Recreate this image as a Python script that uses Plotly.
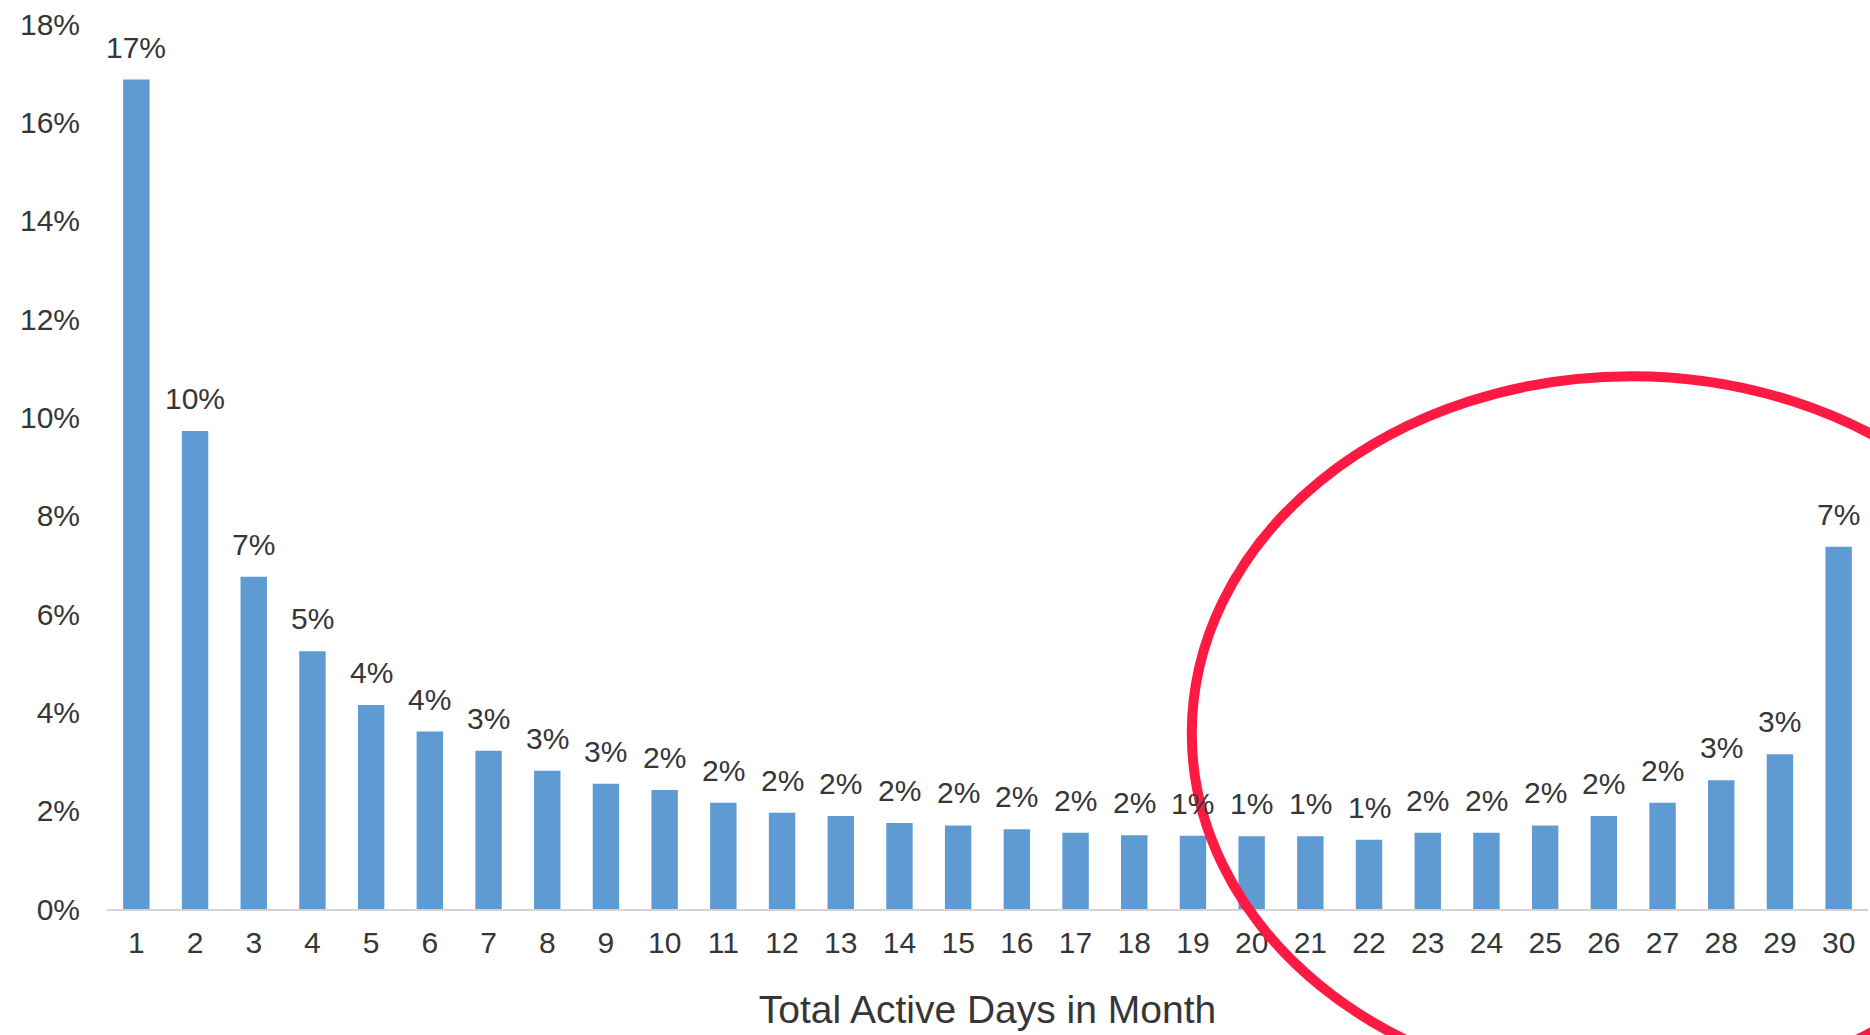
import plotly.graph_objects as go

days = [str(d) for d in range(1, 31)]
share = [16.87, 9.72, 6.76, 5.24, 4.15, 3.61, 3.22, 2.81, 2.55, 2.42,
         2.16, 1.96, 1.89, 1.75, 1.70, 1.62, 1.55, 1.50, 1.49, 1.48,
         1.48, 1.41, 1.55, 1.55, 1.70, 1.89, 2.16, 2.62, 3.15, 7.37]
labels = ["17%", "10%", "7%", "5%", "4%", "4%", "3%", "3%", "3%", "2%",
          "2%", "2%", "2%", "2%", "2%", "2%", "2%", "2%", "1%", "1%",
          "1%", "1%", "2%", "2%", "2%", "2%", "2%", "3%", "3%", "7%"]
y_ticks = list(range(0, 19, 2))
y_tick_labels = [f"{v}%" for v in y_ticks]

FONT = "Liberation Sans, Arial, sans-serif"
TXT = "#363636"

fig = go.Figure(go.Bar(
    x=days, y=share,
    marker=dict(color="#5f9bd3", line=dict(width=0)),
    hoverinfo="skip",
))

# value labels above bars (category axis -> use category index)
for i, (v, t) in enumerate(zip(share, labels)):
    fig.add_annotation(x=i, y=v, xref="x", yref="y", text=t, showarrow=False,
                       yanchor="bottom", yshift=14,
                       font=dict(family=FONT, size=30, color=TXT))

# red highlight ellipse (decoration)
fig.add_shape(type="circle", xref="paper", yref="paper",
              x0=0.616, x1=1.115, y0=-0.205, y1=0.602,
              line=dict(color="#ff1a44", width=10), layer="above")

fig.update_layout(
    width=1870, height=1035,
    margin=dict(l=107, r=2, t=24, b=126),
    paper_bgcolor="white", plot_bgcolor="white",
    bargap=0.55,
    showlegend=False,
    font=dict(family=FONT, color=TXT, size=30),
    xaxis=dict(
        type="category", range=[-0.5, 29.5],
        showline=True, linecolor="#d4d4d4", linewidth=2,
        showgrid=False, ticks="", ticklabelstandoff=6,
        tickfont=dict(family=FONT, size=30, color=TXT),
        title=dict(text="Total Active Days in Month", standoff=38,
                   font=dict(family=FONT, size=39, color=TXT)),
    ),
    yaxis=dict(
        range=[0, 18], tickvals=y_ticks, ticktext=y_tick_labels,
        showgrid=False, zeroline=False, showline=False, ticks="",
        ticklabelstandoff=26,
        tickfont=dict(family=FONT, size=30, color=TXT),
    ),
)

fig.write_html("out.html")
